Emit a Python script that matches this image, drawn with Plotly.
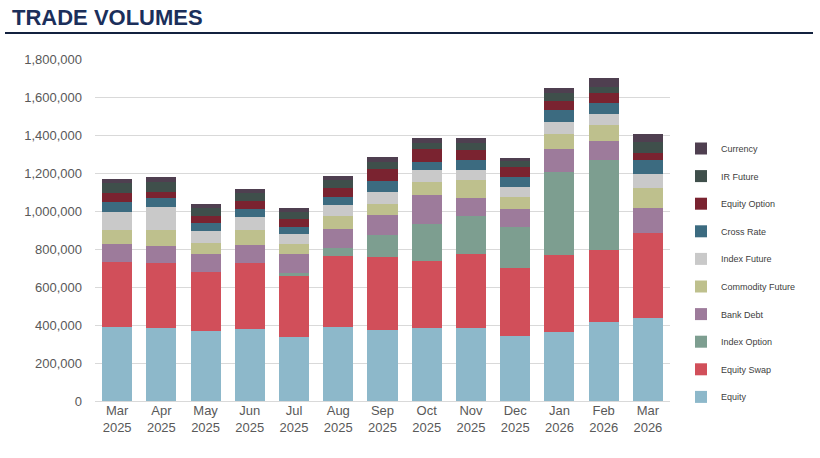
import plotly.graph_objects as go

months = ["Mar<br>2025", "Apr<br>2025", "May<br>2025", "Jun<br>2025", "Jul<br>2025", "Aug<br>2025",
          "Sep<br>2025", "Oct<br>2025", "Nov<br>2025", "Dec<br>2025", "Jan<br>2026", "Feb<br>2026",
          "Mar<br>2026"]

equity           = [390000, 386000, 368000, 379000, 338000, 391000, 374000, 386000, 386000, 344000, 365000, 417000, 435000]
equity_swap      = [342000, 339000, 309000, 346000, 320000, 372000, 385000, 351000, 386000, 354000, 403000, 378000, 451000]
index_option     = [0, 0, 0, 0, 17000, 41000, 115000, 195000, 202000, 216000, 439000, 473000, 0]
bank_debt        = [94000, 92000, 97000, 96000, 97000, 100000, 105000, 152000, 93000, 95000, 118000, 102000, 131000]
commodity_future = [74000, 83000, 59000, 79000, 54000, 71000, 58000, 70000, 96000, 66000, 80000, 83000, 102000]
index_future     = [96000, 119000, 63000, 67000, 53000, 57000, 65000, 62000, 53000, 53000, 65000, 58000, 76000]
cross_rate       = [53000, 48000, 42000, 42000, 38000, 43000, 57000, 43000, 52000, 53000, 62000, 56000, 73000]
equity_option    = [44000, 31000, 36000, 44000, 39000, 44000, 60000, 66000, 53000, 49000, 49000, 52000, 39000]
ir_future        = [53000, 56000, 40000, 40000, 40000, 44000, 40000, 34000, 38000, 35000, 42000, 35000, 58000]
currency         = [21000, 27000, 23000, 21000, 18000, 23000, 24000, 24000, 24000, 16000, 26000, 44000, 40000]

series_names = ["Equity", "Equity Swap", "Index Option", "Bank Debt", "Commodity Future",
                "Index Future", "Cross Rate", "Equity Option", "IR Future", "Currency"]
series_values = [equity, equity_swap, index_option, bank_debt, commodity_future,
                 index_future, cross_rate, equity_option, ir_future, currency]
series_colors = ["#8DB8CA", "#D14F5A", "#7D9E90", "#9D7B9B", "#BEC08D",
                 "#C9C9C9", "#3C6B80", "#7A2330", "#3F4F4B", "#4F3F50"]

y_ticks = [0, 200000, 400000, 600000, 800000, 1000000, 1200000, 1400000, 1600000, 1800000]
y_tick_labels = ["0", "200,000", "400,000", "600,000", "800,000", "1,000,000",
                 "1,200,000", "1,400,000", "1,600,000", "1,800,000"]

fig = go.Figure()
n = len(series_names)
for i, (name, vals, col) in enumerate(zip(series_names, series_values, series_colors)):
    fig.add_trace(go.Bar(x=months, y=vals, name=name, marker=dict(color=col, line=dict(width=0)),
                         legendgroup=name, legendrank=100 + (n - i)))

W, H = 820, 458
L, R, T, B = 95, 150, 59, 57
pw, ph = W - L - R, H - T - B

def px_x(x):
    return (x - L) / pw

def px_y(y):
    return (H - B - y) / ph

fig.update_layout(
    width=W, height=H,
    margin=dict(l=L, r=R, t=T, b=B),
    barmode="stack",
    bargap=0.32,
    plot_bgcolor="white", paper_bgcolor="white",
    font=dict(family="Liberation Sans, Arial, sans-serif", color="#595959", size=13),
    title=dict(text="<b>TRADE VOLUMES</b>", xref="container", yref="container",
               x=12 / W, xanchor="left", y=1 - 17 / H, yanchor="middle",
               font=dict(family="Liberation Sans Narrow, Arial Narrow, sans-serif", size=22, color="#1B2F5B")),
    xaxis=dict(tickfont=dict(size=13, color="#595959"), showgrid=False, showline=False,
               ticks="", range=[-0.5, 12.5]),
    yaxis=dict(range=[0, 1800000], tickvals=y_ticks, ticktext=y_tick_labels,
               showgrid=True, gridcolor="#D9D9D9", gridwidth=1,
               zeroline=True, zerolinecolor="#D9D9D9", zerolinewidth=1,
               tickfont=dict(size=13, color="#595959"), ticks="", ticklabelstandoff=12),
    legend=dict(x=px_x(681), xanchor="left", y=px_y(134), yanchor="top",
                traceorder="grouped", tracegroupgap=8.6,
                font=dict(size=9, color="#404040"), bgcolor="rgba(0,0,0,0)"),
    shapes=[dict(type="line", xref="paper", yref="paper",
                 x0=px_x(5), x1=px_x(813), y0=px_y(33), y1=px_y(33),
                 line=dict(color="#13213F", width=2))],
)

fig.write_html("out.html")
